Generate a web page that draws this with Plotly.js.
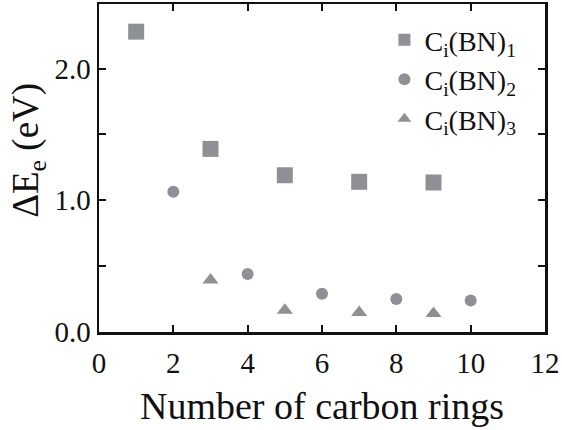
<!DOCTYPE html>
<html>
<head>
<meta charset="utf-8">
<script src="https://cdn.plot.ly/plotly-3.0.1.min.js"></script>
<style>
  html, body { margin: 0; padding: 0; background: #fff; }
  #chart { width: 562px; height: 430px; }
</style>
</head>
<body>
<div id="chart"></div>
<script>
// Excitation energy difference vs. number of carbon rings for C_i(BN)_n
const seriesNames = ['C<sub>i</sub>(BN)<sub>1</sub>', 'C<sub>i</sub>(BN)<sub>2</sub>', 'C<sub>i</sub>(BN)<sub>3</sub>'];

const ringsBN1 = [1, 3, 5, 7, 9];
const energyBN1 = [2.28, 1.39, 1.19, 1.14, 1.135];

const ringsBN2 = [2, 4, 6, 8, 10];
const energyBN2 = [1.065, 0.44, 0.29, 0.25, 0.24];

const ringsBN3 = [3, 5, 7, 9];
const energyBN3 = [0.395, 0.165, 0.148, 0.14];

const xTickVals = [0, 2, 4, 6, 8, 10, 12];
const xTickText = ['0', '2', '4', '6', '8', '10', '12'];
const yTickVals = [0, 0.5, 1.0, 1.5, 2.0];
const yTickText = ['0.0', '', '1.0', '', '2.0'];

const xTitle = 'Number of carbon rings';
const yTitle = 'ΔE<sub>e</sub> (eV)';

const markerGrey = '#8f9096';
const serif = '"Liberation Serif", "Times New Roman", Times, serif';

const traces = [
  { x: ringsBN1, y: energyBN1, name: seriesNames[0], type: 'scatter', mode: 'markers',
    marker: { symbol: 'square', size: 16, color: markerGrey } },
  { x: ringsBN2, y: energyBN2, name: seriesNames[1], type: 'scatter', mode: 'markers',
    marker: { symbol: 'circle', size: 12, color: markerGrey } },
  { x: ringsBN3, y: energyBN3, name: seriesNames[2], type: 'scatter', mode: 'markers',
    marker: { symbol: 'triangle-up', size: 14, color: markerGrey } }
];

const axisCommon = {
  showline: true, linecolor: '#111', linewidth: 2.5, mirror: 'ticks',
  ticks: 'inside', ticklen: 7, tickwidth: 2, tickcolor: '#111',
  showgrid: false, zeroline: false,
  tickfont: { family: serif, size: 29, color: '#111' }
};

const layout = {
  width: 562, height: 430,
  margin: { l: 99, r: 17, t: 4, b: 98, pad: 0 },
  paper_bgcolor: '#fff', plot_bgcolor: '#fff',
  font: { family: serif, color: '#111' },
  showlegend: true,
  legend: {
    x: 0.64, y: 0.966, xanchor: 'left', yanchor: 'top',
    bgcolor: 'rgba(0,0,0,0)', borderwidth: 0,
    font: { family: serif, size: 28, color: '#111' },
    itemsizing: 'constant', tracegroupgap: 0
  },
  xaxis: Object.assign({}, axisCommon, {
    range: [0, 12], tickvals: xTickVals, ticktext: xTickText,
    ticklabelstandoff: 4,
    title: { text: xTitle, font: { family: serif, size: 38, color: '#111' }, standoff: 14 }
  }),
  yaxis: Object.assign({}, axisCommon, {
    range: [0, 2.49], tickvals: yTickVals, ticktext: yTickText
  }),
  // y-axis label, set a little above the axis midpoint
  annotations: [{
    text: yTitle, textangle: -90, showarrow: false,
    xref: 'paper', yref: 'paper', x: -0.158, y: 0.554,
    xanchor: 'center', yanchor: 'middle',
    font: { family: serif, size: 37, color: '#111' }
  }]
};

Plotly.newPlot('chart', traces, layout, { displayModeBar: false, staticPlot: true });
</script>
</body>
</html>
